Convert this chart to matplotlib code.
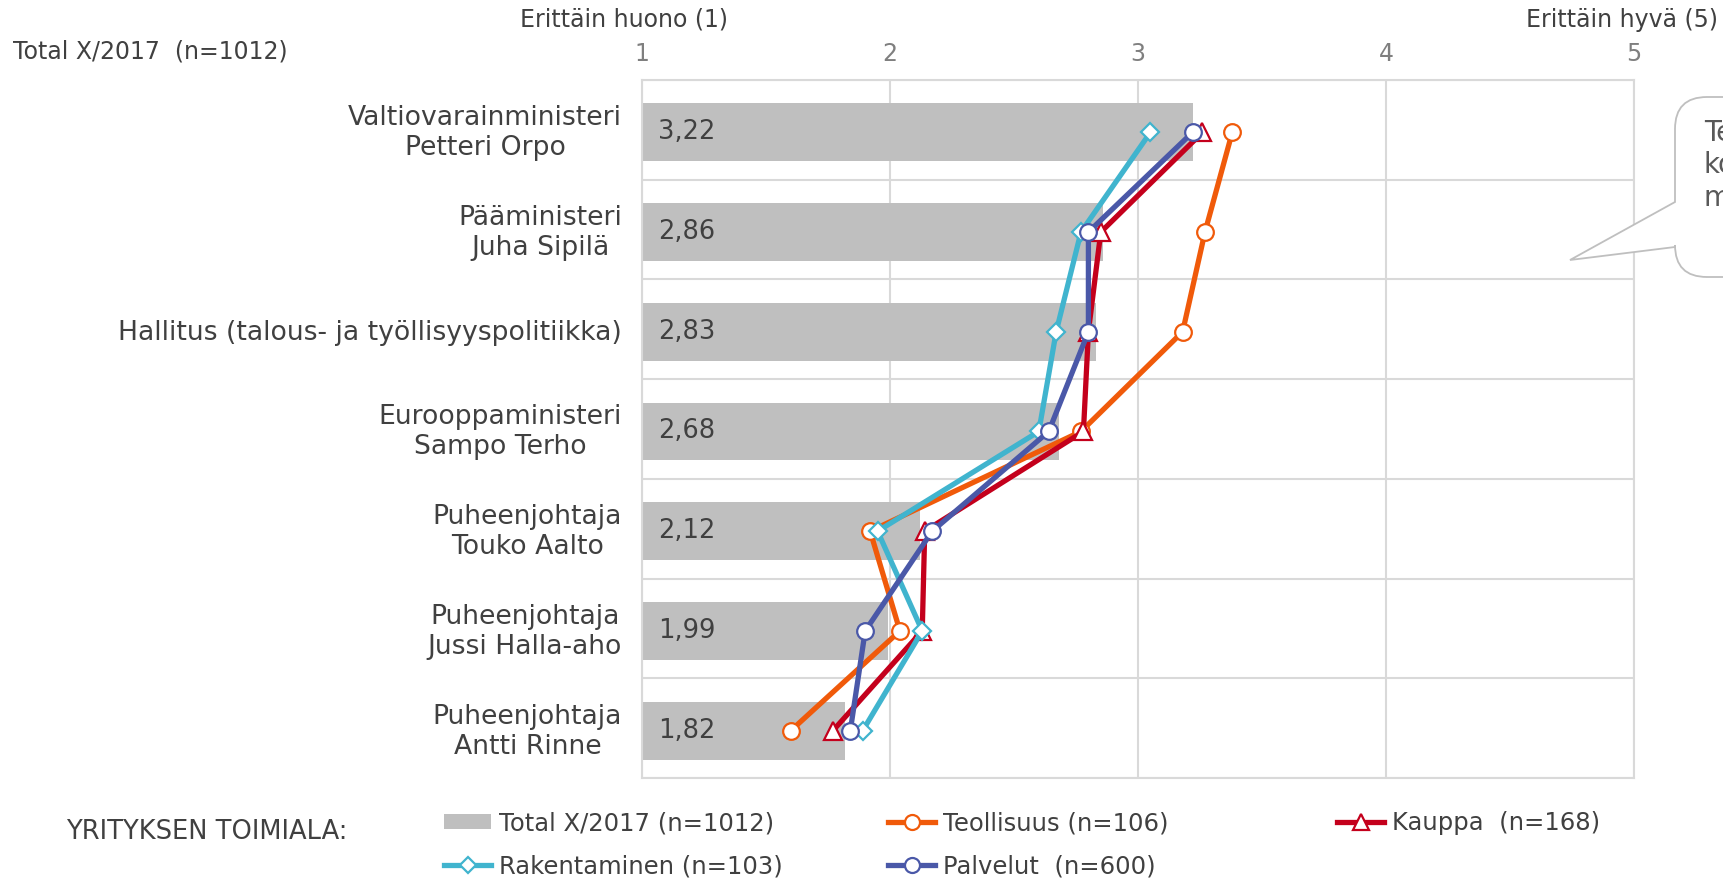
import numpy as np
import matplotlib.pyplot as plt
from matplotlib.path import Path
from matplotlib.patches import PathPatch
from matplotlib.lines import Line2D
from matplotlib.patches import Patch

plt.rcParams['font.family'] = ['DejaVu Sans']

# data
categories = [
    "Valtiovarainministeri\nPetteri Orpo",
    "Pääministeri\nJuha Sipilä",
    "Hallitus (talous- ja työllisyyspolitiikka)",
    "Eurooppaministeri\nSampo Terho",
    "Puheenjohtaja\nTouko Aalto",
    "Puheenjohtaja\nJussi Halla-aho",
    "Puheenjohtaja\nAntti Rinne",
]
total = [3.22, 2.86, 2.83, 2.68, 2.12, 1.99, 1.82]
teollisuus = [3.38, 3.27, 3.18, 2.77, 1.92, 2.04, 1.60]
kauppa = [3.26, 2.85, 2.80, 2.78, 2.14, 2.13, 1.77]
rakentaminen = [3.05, 2.77, 2.67, 2.60, 1.95, 2.13, 1.89]
palvelut = [3.22, 2.80, 2.80, 2.64, 2.17, 1.90, 1.84]
xticks = [1, 2, 3, 4, 5]

W, H = 1724, 881
fig = plt.figure(figsize=(W / 100, H / 100), dpi=100)


def fx(px):
    return px / W


def fy(py):
    return 1 - py / H


ax = fig.add_axes([fx(642), fy(778), fx(1634) - fx(642), fy(80) - fy(778)])

dark = '#404040'
grid = '#D9D9D9'
y = np.arange(len(categories))
yp = y + 0.025  # excel draws the rows a touch low

ax.barh(yp, np.array(total) - 1, left=1, height=0.58, color='#BFBFBF', zorder=2)
for i, v in enumerate(total):
    ax.text(1.065, yp[i], f"{v:.2f}".replace('.', ','), va='center', ha='left',
            fontsize=18.5, color=dark, zorder=5)

series = [
    (teollisuus, '#F05A0A', 'o', 12, "Teollisuus (n=106)"),
    (kauppa, '#C4001C', '^', 13.5, "Kauppa  (n=168)"),
    (rakentaminen, '#40B4CE', 'D', 9, "Rakentaminen (n=103)"),
    (palvelut, '#4A58A8', 'o', 12, "Palvelut  (n=600)"),
]
handles = {}
for vals, col, mk, ms, lab in series:
    h, = ax.plot(vals, yp, color=col, lw=3.8, marker=mk, ms=ms, mfc='white',
                 mec=col, mew=1.6, zorder=4, label=lab)
    handles[lab] = h

ax.set_xlim(1, 5)
ax.set_ylim(len(categories) - 0.5, -0.5)
ax.xaxis.tick_top()
ax.set_xticks(xticks)
ax.set_xticklabels([str(t) for t in xticks])
ax.tick_params(axis='x', length=0, pad=10, labelsize=17, labelcolor='#7F7F7F')
ax.set_yticks(y)
ax.set_yticklabels([])
ax.tick_params(axis='y', length=0)
ax.set_yticks(np.arange(-0.5, len(categories), 1), minor=True)
ax.tick_params(axis='y', which='minor', length=0)
ax.grid(True, which='minor', axis='y', color=grid, lw=1.5, zorder=0)
ax.grid(True, which='major', axis='x', color=grid, lw=1.5, zorder=0)
for s in ax.spines.values():
    s.set_color(grid)
    s.set_linewidth(1.5)

for i, c in enumerate(categories):
    ax.text(-0.02, yp[i] + 0.01, c, transform=ax.get_yaxis_transform(),
            ha='right', va='center', multialignment='center', fontsize=19.2,
            color=dark, linespacing=1.2)

# header texts
fig.text(fx(13), fy(52), "Total X/2017  (n=1012)", fontsize=17, color=dark,
         ha='left', va='center')
fig.text(fx(624), fy(20), "Erittäin huono (1)", fontsize=17, color=dark,
         ha='center', va='center')
fig.text(fx(1718), fy(20), "Erittäin hyvä (5)", fontsize=17, color=dark,
         ha='right', va='center')

# callout (cut off at right edge, as in the original)
r = 32
x0, x1, t, b = 1675, 1800, 97, 277
pts = [(x0, 202), (x0, t + r), (x0, t), (x0 + r, t), (x1, t), (x1, b),
       (x0 + r, b), (x0, b), (x0, b - r), (x0, 247), (1570, 260), (x0, 202)]
codes = [Path.MOVETO, Path.LINETO, Path.CURVE3, Path.CURVE3, Path.LINETO,
         Path.LINETO, Path.LINETO, Path.CURVE3, Path.CURVE3, Path.LINETO,
         Path.LINETO, Path.CLOSEPOLY]
path = Path([(fx(px), fy(py)) for px, py in pts], codes)
fig.patches.append(PathPatch(path, transform=fig.transFigure, facecolor='white',
                             edgecolor='#BFBFBF', lw=1.3, fill=True,
                             zorder=10))
fig.text(fx(1704), fy(119), "Teollisuus\nkokee\nministerit", fontsize=20,
         color='#595959', ha='left', va='top', linespacing=1.2, zorder=11)

# legend
fig.text(fx(66), fy(832), "YRITYKSEN TOIMIALA:", fontsize=18.5, color=dark,
         ha='left', va='center')
bar_h = Patch(facecolor='#BFBFBF', edgecolor='none')
leg_kw = dict(frameon=False, fontsize=17.5, handlelength=1.95, handleheight=0.6,
              handletextpad=0.3, labelspacing=0.8, borderpad=0,
              borderaxespad=0, loc='upper left', labelcolor=dark)
cols = [
    ([bar_h, handles["Rakentaminen (n=103)"]],
     ["Total X/2017 (n=1012)", "Rakentaminen (n=103)"], 444),
    ([handles["Teollisuus (n=106)"], handles["Palvelut  (n=600)"]],
     ["Teollisuus (n=106)", "Palvelut  (n=600)"], 888),
    ([handles["Kauppa  (n=168)"]], ["Kauppa  (n=168)"], 1337),
]
for hs, labs, xp in cols:
    lg = fig.legend(hs, labs, bbox_to_anchor=(fx(xp), fy(811)), **leg_kw)
    for lh in lg.legend_handles:
        if isinstance(lh, Line2D):
            lh.set_markersize(lh.get_markersize() * 0.9)

fig.savefig("out.png", dpi=100)
